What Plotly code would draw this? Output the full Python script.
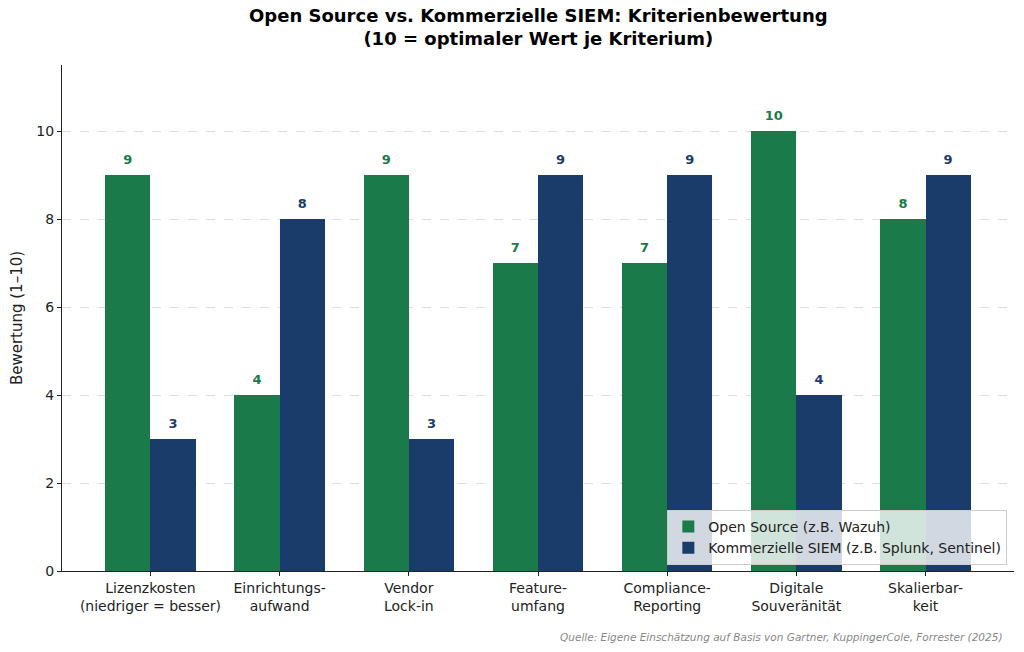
import plotly.graph_objects as go

categories = ["Lizenzkosten<br>(niedriger = besser)", "Einrichtungs-<br>aufwand", "Vendor<br>Lock-in",
              "Feature-<br>umfang", "Compliance-<br>Reporting", "Digitale<br>Souveränität", "Skalierbar-<br>keit"]
open_source = [9, 4, 9, 7, 7, 10, 8]
commercial = [3, 8, 3, 9, 9, 4, 9]
series_names = ["Open Source (z.B. Wazuh)", "Kommerzielle SIEM (z.B. Splunk, Sentinel)"]
colors = ["#1b7a4a", "#1a3c6b"]

width = 0.35
xs = list(range(len(categories)))
x_os = [x - width / 2 for x in xs]
x_co = [x + width / 2 for x in xs]

fig = go.Figure()
for xpos, vals, name, col in [(x_os, open_source, series_names[0], colors[0]),
                              (x_co, commercial, series_names[1], colors[1])]:
    fig.add_trace(go.Bar(x=xpos, y=vals, width=width, name=name, marker=dict(color=col, line=dict(width=0))))
for xpos, vals, col in [(x_os, open_source, colors[0]), (x_co, commercial, colors[1])]:
    fig.add_trace(go.Scatter(x=xpos, y=[v + 0.33 for v in vals], mode="text", text=[str(v) for v in vals],
                             textfont=dict(color=col, size=13, family="DejaVu Sans"),
                             textposition="middle center", showlegend=False, hoverinfo="skip",
                             texttemplate="<b>%{text}</b>"))

fig.update_layout(
    width=1024, height=652,
    margin=dict(l=62, r=10, t=65, b=81),
    paper_bgcolor="white", plot_bgcolor="white",
    font=dict(family="DejaVu Sans", size=14, color="#222"),
    barmode="overlay",
    xaxis=dict(range=[-0.685, 6.685], tickmode="array", tickvals=xs, ticktext=categories,
               showline=True, linecolor="#222", linewidth=1.2, ticks="outside", ticklen=4,
               tickcolor="#222", showgrid=False, zeroline=False, tickfont=dict(size=14, color="#222")),
    yaxis=dict(range=[0, 11.5], tickvals=[0, 2, 4, 6, 8, 10], showline=True, linecolor="#222",
               linewidth=1.2, ticks="outside", ticklen=4, tickcolor="#222",
               showgrid=True, gridcolor="#dddddd", griddash="dash", gridwidth=1, zeroline=False,
               title=dict(text="Bewertung (1–10)", font=dict(size=15), standoff=10),
               tickfont=dict(size=14, color="#222")),
    legend=dict(x=0.993, xanchor="right", y=0.012, yanchor="bottom",
                bgcolor="rgba(255,255,255,0.8)", bordercolor="#cccccc", borderwidth=1,
                font=dict(size=14, color="#222"), traceorder="normal", itemwidth=30),
    bargap=0,
)
fig.add_annotation(text="<b>Open Source vs. Kommerzielle SIEM: Kriterienbewertung<br>(10 = optimaler Wert je Kriterium)</b>",
                   xref="paper", yref="paper", x=0.5, y=1 + 14 / 506, xanchor="center", yanchor="bottom",
                   showarrow=False, font=dict(size=18, color="black"))
fig.add_annotation(text="<i>Quelle: Eigene Einschätzung auf Basis von Gartner, KuppingerCole, Forrester (2025)</i>",
                   xref="paper", yref="paper", x=0.99, y=-0.115, xanchor="right", yanchor="top",
                   showarrow=False, font=dict(size=10.5, color="#888888"))
fig.write_html("out.html")
